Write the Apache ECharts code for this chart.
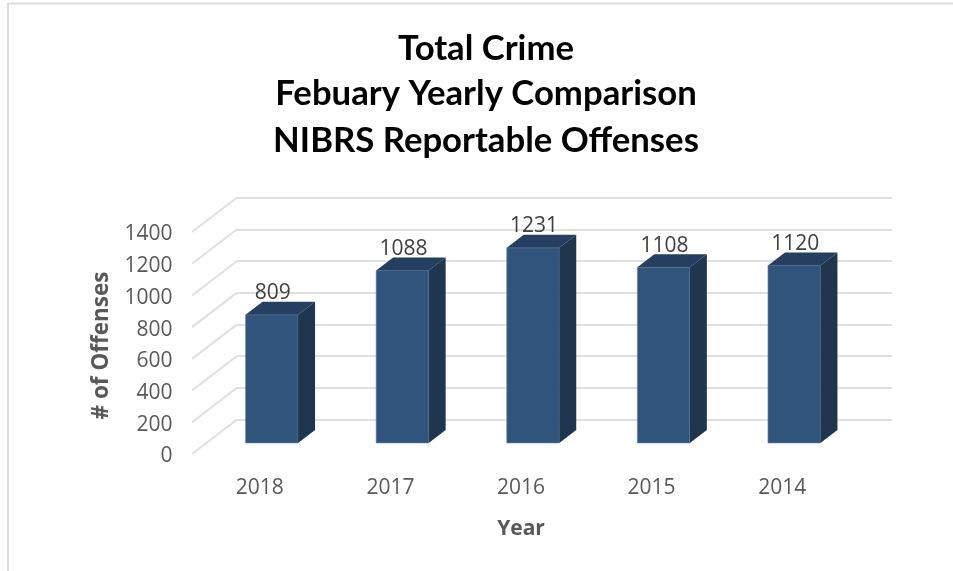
<!DOCTYPE html>
<html><head><meta charset="utf-8">
<style>html,body{margin:0;padding:0;background:#fff}#c{width:953px;height:571px}</style>
<script src="https://cdn.jsdelivr.net/npm/echarts@6/dist/echarts.min.js"></script>
</head><body><div id="c"></div>
<script>
const categories = ['2018','2017','2016','2015','2014'];
const offenses = [809,1088,1231,1108,1120];
const ticks = [0,200,400,600,800,1000,1200,1400];
const titleLines = ['Total Crime','Febuary Yearly Comparison','NIBRS Reportable Offenses'];

const BAR_DX = 12, BAR_DY = 11, DEPTH_X = 17, DEPTH_Y = 13;
const WALL_DX = 42.5, WALL_DY = 34.5;

const chart = echarts.init(document.getElementById('c'), null, {renderer:'canvas'});
const titleFont = {fontFamily:'Lato', fontWeight:'bold', fontSize:34.7, fill:'#000', textAlign:'center', textVerticalAlign:'middle'};
chart.setOption({
  animation:false,
  backgroundColor:'#fff',
  graphic:[
    {type:'line', shape:{x1:8,y1:3,x2:8,y2:571}, style:{stroke:'#d9d9d9',lineWidth:2}},
    {type:'line', shape:{x1:8,y1:3.5,x2:953,y2:3.5}, style:{stroke:'#dcdcdc',lineWidth:2}},
    ...titleLines.map((t,i)=>({type:'text', x:486, y:[49,94,141][i], style:Object.assign({text:t},titleFont)}))
  ],
  grid:[
    {left:194.5, width:653, top:232, height:222},
    {left:237, width:655, top:197.7, height:221.8},
    {left:194.5, width:653, top:234.5, height:222}
  ],
  xAxis:[
    {gridIndex:0, type:'category', data:categories, axisLine:{show:false}, axisTick:{show:false},
     axisLabel:{fontFamily:'Open Sans', fontSize:21, color:'#595959', margin:24},
     name:'Year', nameLocation:'middle', nameGap:65,
     nameTextStyle:{fontFamily:'Open Sans', fontWeight:'bold', fontSize:21, color:'#595959'}},
    {gridIndex:1, type:'category', data:categories, show:false},
    {gridIndex:2, type:'category', data:categories, show:false}
  ],
  yAxis:[
    {gridIndex:0, type:'value', min:0, max:1400, interval:200, show:false},
    {gridIndex:1, type:'value', min:0, max:1400, interval:200, axisLine:{show:false}, axisTick:{show:false}, axisLabel:{show:false},
     splitLine:{show:true, lineStyle:{color:'#e0e0e0', width:2}}},
    {gridIndex:2, type:'value', min:0, max:1400, interval:200, splitLine:{show:false}, axisLine:{show:false}, axisTick:{show:false},
     axisLabel:{fontFamily:'Open Sans', fontSize:21, color:'#595959', margin:22, formatter:v=>String(v)},
     name:'# of Offenses', nameLocation:'middle', nameGap:78, nameRotate:90,
     nameTextStyle:{fontFamily:'Open Sans', fontWeight:'bold', fontSize:22.5, color:'#595959'}}
  ],
  series:[
    {type:'custom', xAxisIndex:0, yAxisIndex:0, silent:true, z:1, clip:false,
     data:ticks.map(v=>[0,v]),
     encode:{x:0,y:1},
     renderItem(params,api){
       const y = api.coord([0,api.value(1)])[1];
       const x = params.coordSys.x - 2.5;
       return {type:'line', shape:{x1:x,y1:y,x2:x+2.5+WALL_DX,y2:y-WALL_DY}, style:{stroke:'#e0e0e0',lineWidth:2}};
     }},
    {type:'custom', xAxisIndex:0, yAxisIndex:0, silent:true, z:3, clip:false,
     data:offenses.map((v,i)=>[i,v]),
     encode:{x:0,y:1},
     label:{show:false},
     renderItem(params,api){
       const top = api.coord([api.value(0),api.value(1)]);
       const base = api.coord([api.value(0),0]);
       const w = api.size([1,0])[0]*0.402;
       const xl = top[0]+BAR_DX-w/2, xr = xl+w, yt = top[1]-BAR_DY, yb = base[1]-BAR_DY;
       return {type:'group', children:[
         {type:'rect', shape:{x:xl,y:yt,width:w,height:yb-yt}, style:{fill:'#31547d',stroke:'#6f8aab',lineWidth:0.6}},
         {type:'polygon', shape:{points:[[xl,yt],[xr,yt],[xr+DEPTH_X,yt-DEPTH_Y],[xl+DEPTH_X,yt-DEPTH_Y]]}, style:{fill:'#253f60'}},
         {type:'polygon', shape:{points:[[xr,yt],[xr+DEPTH_X,yt-DEPTH_Y],[xr+DEPTH_X,yb-DEPTH_Y],[xr,yb]]}, style:{fill:'#20364f'}},
         {type:'text', x:xl+w/2+1, y:yt-DEPTH_Y+2, style:{text:String(api.value(1)), fontFamily:'Open Sans', fontSize:21, fill:'#404040', textAlign:'center', textVerticalAlign:'bottom'}}
       ]};
     }}
  ]
});
</script></body></html>
